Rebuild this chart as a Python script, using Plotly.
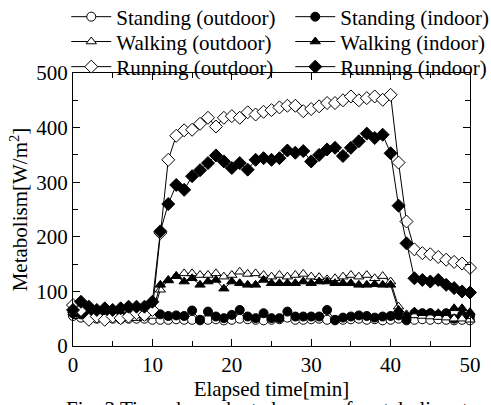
import plotly.graph_objects as go

time_min = list(range(0, 51))

standing_outdoor = [55, 52, 50, 50, 51, 50, 49, 50, 50, 50, 48,
                    48, 48, 49, 48, 48, 47, 48, 49, 47, 48,
                    50, 49, 48, 47, 48, 49, 52, 48, 48, 49,
                    50, 48, 47, 48, 49, 50, 48, 49, 47, 48,
                    50, 47, 48, 49, 48, 49, 48, 47, 48, 47]
standing_indoor = [60, 58, 57, 56, 57, 58, 56, 57, 58, 57, 60,
                   58, 55, 56, 55, 65, 48, 63, 54, 51, 57,
                   66, 54, 51, 60, 51, 51, 63, 54, 54, 54,
                   54, 66, 48, 52, 54, 56, 55, 52, 54, 55,
                   56, 48, 60, 60, 60, 57, 60, 50, 57, 55]
walking_outdoor = [62, 58, 52, 54, 52, 51, 52, 51, 51, 52, 55,
                   103, 121, 128, 133, 133, 130, 130, 133, 127, 130,
                   136, 132, 133, 130, 127, 130, 127, 130, 132, 127,
                   126, 122, 124, 127, 130, 127, 130, 124, 128, 118,
                   72, 58, 56, 55, 54, 53, 52, 50, 50, 48]
walking_indoor = [65, 60, 57, 58, 58, 57, 57, 58, 58, 58, 62,
                  112, 120, 128, 118, 124, 112, 118, 121, 105, 118,
                  115, 112, 112, 121, 115, 115, 115, 115, 118, 115,
                  118, 118, 115, 115, 115, 112, 112, 113, 112, 112,
                  66, 56, 63, 60, 61, 60, 60, 69, 69, 62]
running_outdoor = [75, 66, 48, 54, 48, 54, 51, 54, 60, 57, 66,
                   207, 341, 385, 395, 396, 407, 418, 402, 418, 421,
                   418, 428, 424, 429, 432, 437, 440, 440, 430, 434,
                   439, 445, 445, 450, 457, 450, 454, 457, 451, 460,
                   336, 228, 177, 170, 168, 163, 158, 154, 151, 143]
running_indoor = [66, 81, 72, 66, 69, 66, 69, 72, 72, 72, 81,
                  210, 260, 295, 286, 311, 322, 335, 349, 338, 326,
                  335, 323, 341, 344, 341, 344, 358, 354, 357, 338,
                  350, 360, 363, 348, 363, 375, 389, 381, 387, 353,
                  257, 188, 124, 121, 118, 121, 112, 106, 100, 98]

series = [
    ("Standing (outdoor)", standing_outdoor, "circle", "white", 9, "legend"),
    ("Standing (indoor)", standing_indoor, "circle", "black", 9, "legend"),
    ("Walking (outdoor)", walking_outdoor, "triangle-up", "white", 9, "legend2"),
    ("Walking (indoor)", walking_indoor, "triangle-up", "black", 9, "legend2"),
    ("Running (outdoor)", running_outdoor, "diamond", "white", 10, "legend3"),
    ("Running (indoor)", running_indoor, "diamond", "black", 10, "legend3"),
]

FONT = "Liberation Serif"
FS = 21

fig = go.Figure()
for name, vals, sym, fill, size, leg in series:
    fig.add_trace(go.Scatter(
        x=time_min, y=vals, name=name, mode="lines+markers",
        line=dict(color="black", width=1),
        marker=dict(symbol=sym, size=size, color=fill,
                    line=dict(color="black", width=1)),
        cliponaxis=False, legend=leg,
    ))

axis_common = dict(
    showline=True, linecolor="black", linewidth=1, mirror="ticks",
    ticks="inside", ticklen=7, tickwidth=1, tickcolor="black",
    showgrid=False, zeroline=False,
    tickfont=dict(family=FONT, size=FS, color="black"),
)

fig.update_xaxes(range=[0, 50], dtick=10, tick0=0,
                 minor=dict(dtick=5, ticks="inside", ticklen=5, tickcolor="black"),
                 title=dict(text="Elapsed time[min]", standoff=4,
                            font=dict(family=FONT, size=FS, color="black")),
                 **axis_common)
fig.update_yaxes(range=[0, 500], dtick=100, tick0=0,
                 minor=dict(dtick=50, ticks="inside", ticklen=5, tickcolor="black"),
                 title=dict(text="Metabolism[W/m<sup>2</sup>]", standoff=2,
                            font=dict(family=FONT, size=FS, color="black")),
                 **axis_common)

fig.add_annotation(text="Fig. 3 Time-dependent changes of metabolic rate",
                   xref="paper", yref="paper", x=0.5, y=-0.18,
                   xanchor="center", yanchor="top", showarrow=False,
                   font=dict(family=FONT, size=FS, color="black"))

def leg(ypos):
    return dict(orientation="h", x=-0.017, y=ypos, xanchor="left", yanchor="middle",
                entrywidth=169, entrywidthmode="pixels",
                font=dict(family=FONT, size=FS, color="black"),
                bgcolor="rgba(0,0,0,0)", itemwidth=40)

fig.update_layout(
    width=491, height=405,
    margin=dict(l=73, r=21, t=73, b=59, autoexpand=False),
    paper_bgcolor="white", plot_bgcolor="white",
    font=dict(family=FONT, size=FS, color="black"),
    showlegend=True,
    legend=leg(1.205),
    legend2=leg(1.114),
    legend3=leg(1.022),
)

fig.write_html("out.html")
